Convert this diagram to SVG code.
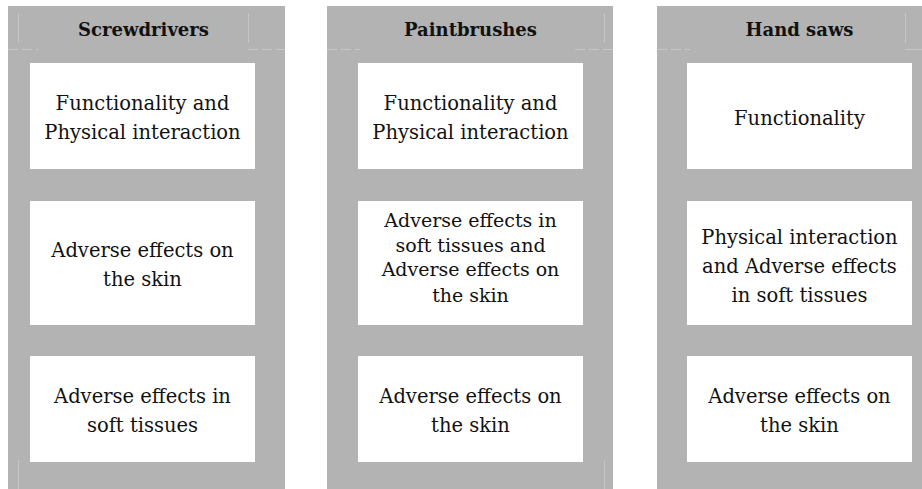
<svg xmlns="http://www.w3.org/2000/svg" width="922" height="489" viewBox="0 0 922 489">
  <style>
    .col { fill: #b3b3b3; }
    .cell { fill: #ffffff; }
    .grid { stroke: #c6c6c6; stroke-width: 1; fill: none; }
    .head { font-family: "DejaVu Serif", "Liberation Serif", serif; font-weight: bold; font-size: 18px; fill: #111111; text-anchor: middle; }
    .txt { font-family: "DejaVu Serif", "Liberation Serif", serif; font-size: 19.5px; fill: #111111; text-anchor: middle; }
    .txt.tight { font-size: 19px; }
  </style>

  <!-- Column 1: Screwdrivers -->
  <g id="col-screwdrivers">
    <rect class="col" x="8" y="6" width="277" height="483"/>
    <g class="grid">
      <line x1="18.5" y1="13" x2="18.5" y2="43"/>
      <line x1="248.5" y1="13" x2="248.5" y2="43"/>
      <line x1="8" y1="49.5" x2="38" y2="49.5" stroke-dasharray="10 4"/>
      <line x1="248" y1="49.5" x2="285" y2="49.5" stroke-dasharray="10 4"/>
      <line x1="18.5" y1="460" x2="18.5" y2="489"/>
    </g>
    <text class="head" x="143.5" y="36">Screwdrivers</text>
    <g id="s-row1">
      <rect class="cell" x="30" y="63" width="225" height="106"/>
      <text class="txt" x="142.5" y="110">Functionality and</text>
      <text class="txt" x="142.5" y="139">Physical interaction</text>
    </g>
    <g id="s-row2">
      <rect class="cell" x="30" y="201" width="225" height="124"/>
      <text class="txt" x="142.5" y="257">Adverse effects on</text>
      <text class="txt" x="142.5" y="286">the skin</text>
    </g>
    <g id="s-row3">
      <rect class="cell" x="30" y="356" width="225" height="106"/>
      <text class="txt" x="142.5" y="403">Adverse effects in</text>
      <text class="txt" x="142.5" y="432">soft tissues</text>
    </g>
  </g>

  <!-- Column 2: Paintbrushes -->
  <g id="col-paintbrushes">
    <rect class="col" x="327" y="6" width="286" height="483"/>
    <g class="grid">
      <line x1="604.5" y1="13" x2="604.5" y2="43"/>
      <line x1="327" y1="49.5" x2="360" y2="49.5" stroke-dasharray="10 4"/>
      <line x1="575" y1="49.5" x2="613" y2="49.5" stroke-dasharray="10 4"/>
      <line x1="604.5" y1="460" x2="604.5" y2="489"/>
    </g>
    <text class="head" x="470.5" y="36">Paintbrushes</text>
    <g id="p-row1">
      <rect class="cell" x="358" y="63" width="225" height="106"/>
      <text class="txt" x="470.5" y="110">Functionality and</text>
      <text class="txt" x="470.5" y="139">Physical interaction</text>
    </g>
    <g id="p-row2">
      <rect class="cell" x="358" y="201" width="225" height="124"/>
      <text class="txt tight" x="470.5" y="226.5">Adverse effects in</text>
      <text class="txt tight" x="470.5" y="251.5">soft tissues and</text>
      <text class="txt tight" x="470.5" y="276">Adverse effects on</text>
      <text class="txt tight" x="470.5" y="301.5">the skin</text>
    </g>
    <g id="p-row3">
      <rect class="cell" x="358" y="356" width="225" height="106"/>
      <text class="txt" x="470.5" y="403">Adverse effects on</text>
      <text class="txt" x="470.5" y="432">the skin</text>
    </g>
  </g>

  <!-- Column 3: Hand saws -->
  <g id="col-handsaws">
    <rect class="col" x="657" y="6" width="265" height="483"/>
    <g class="grid">
      <line x1="905.5" y1="13" x2="905.5" y2="43"/>
      <line x1="657" y1="49.5" x2="690" y2="49.5" stroke-dasharray="10 4"/>
      <line x1="905" y1="49.5" x2="922" y2="49.5"/>
    </g>
    <text class="head" x="799.5" y="36">Hand saws</text>
    <g id="h-row1">
      <rect class="cell" x="687" y="63" width="225" height="106"/>
      <text class="txt" x="799.5" y="125">Functionality</text>
    </g>
    <g id="h-row2">
      <rect class="cell" x="687" y="201" width="225" height="124"/>
      <text class="txt" x="799.5" y="244">Physical interaction</text>
      <text class="txt" x="799.5" y="273">and Adverse effects</text>
      <text class="txt" x="799.5" y="302">in soft tissues</text>
    </g>
    <g id="h-row3">
      <rect class="cell" x="687" y="356" width="225" height="106"/>
      <text class="txt" x="799.5" y="403">Adverse effects on</text>
      <text class="txt" x="799.5" y="432">the skin</text>
    </g>
  </g>
</svg>
